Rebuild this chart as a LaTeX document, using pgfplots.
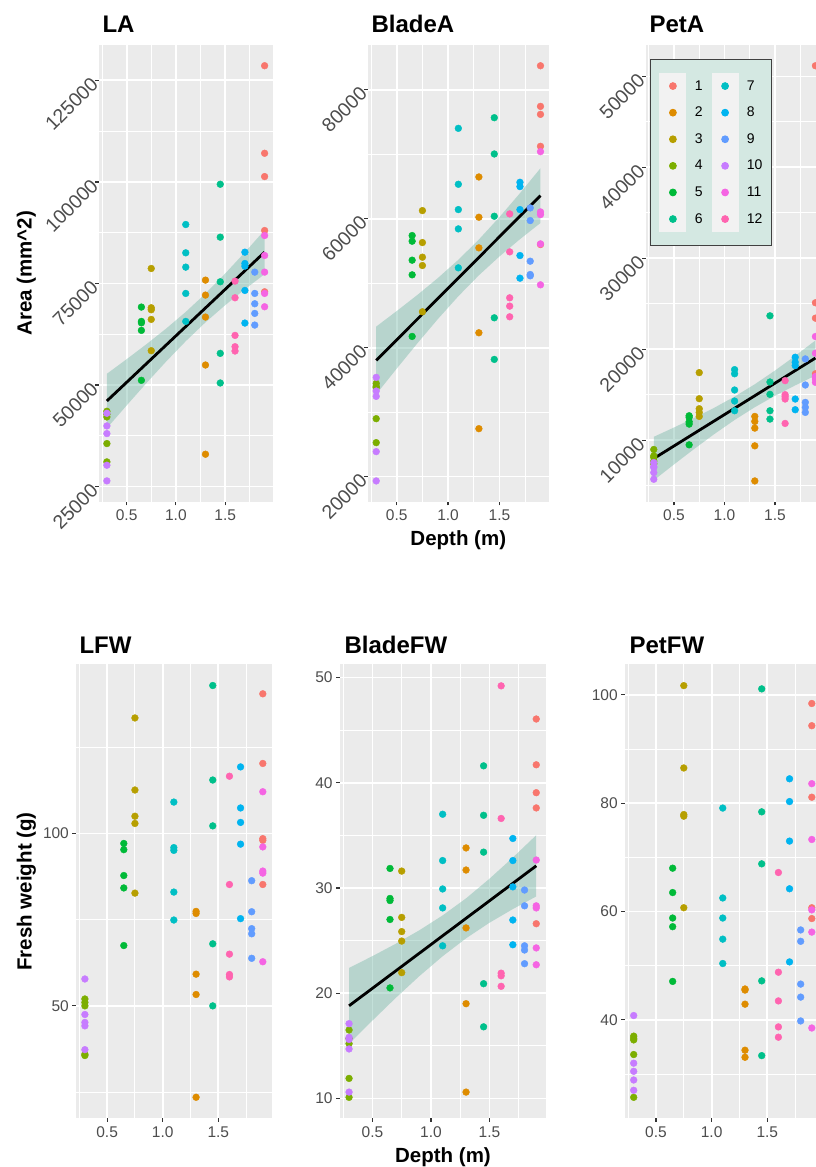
\documentclass[border=0pt]{standalone}
\usepackage{fontspec}
\setmainfont{Liberation Sans}
\usepackage{pgfplots}
\usepackage{pgfplotstable}
\pgfplotsset{compat=1.18}
\definecolor{c1}{HTML}{F8766D}
\definecolor{c2}{HTML}{DE8C00}
\definecolor{c3}{HTML}{B79F00}
\definecolor{c4}{HTML}{7CAE00}
\definecolor{c5}{HTML}{00BA38}
\definecolor{c6}{HTML}{00C08B}
\definecolor{c7}{HTML}{00BFC4}
\definecolor{c8}{HTML}{00B4F0}
\definecolor{c9}{HTML}{619CFF}
\definecolor{c10}{HTML}{C77CFF}
\definecolor{c11}{HTML}{F564E3}
\definecolor{c12}{HTML}{FF64B0}
\definecolor{panelbg}{HTML}{EBEBEB}
\definecolor{bandc}{HTML}{69B3A2}
\definecolor{legbg}{RGB}{212,232,226}
\definecolor{keybg}{HTML}{F2F2F2}
\definecolor{ticklab}{HTML}{4D4D4D}
\definecolor{tickc}{HTML}{333333}
\newcommand\tickfont{\fontsize{15.5pt}{18pt}\selectfont}
\newcommand\rotfont{\fontsize{19.5pt}{22pt}\selectfont}
\newcommand\titlefont{\fontsize{24pt}{28pt}\selectfont\bfseries}
\newcommand\labfont{\fontsize{20.5pt}{24pt}\selectfont\bfseries}
\newcommand\legfont{\fontsize{14pt}{16pt}\selectfont}
\newcommand\legitem[2]{\addlegendimage{only marks, mark=*, mark size=3.4pt, #1,
  legend image code/.code={\fill[keybg] (-13pt,-12.85pt) rectangle (13pt,12.85pt);
  \draw[mark=*, mark size=3.4pt, #1] plot coordinates {(0pt,0pt)};}}\addlegendentry{#2}}

\pgfplotstableread{
x y g
1.9 128607 1
1.9 107049 1
1.9 101311 1
1.9 88033 1
1.9 72951 1
1.3 75820 2
1.3 72131 2
1.3 66721 2
1.3 54918 2
1.3 32951 2
0.75 78689 3
0.75 69016 3
0.75 68525 3
0.75 66148 3
0.75 58443 3
0.3 43525 4
0.3 42800 4
0.3 42131 4
0.3 35574 4
0.3 31066 4
0.65 69180 5
0.65 65656 5
0.65 65300 5
0.65 63443 5
0.65 51148 5
1.45 99426 6
1.45 86393 6
1.45 75410 6
1.45 57787 6
1.45 50492 6
1.1 89508 7
1.1 82541 7
1.1 79016 7
1.1 72541 7
1.1 65656 7
1.7 82705 8
1.7 79918 8
1.7 79262 8
1.7 73279 8
1.7 65246 8
1.8 77787 9
1.8 72541 9
1.8 70000 9
1.8 67623 9
1.8 64754 9
0.3 43033 10
0.3 39918 10
0.3 38033 10
0.3 30246 10
0.3 26393 10
1.9 86803 11
1.9 81885 11
1.9 77787 11
1.9 72541 11
1.9 69262 11
1.6 75574 12
1.6 71475 12
1.6 62213 12
1.6 59426 12
1.6 58361 12
}\tLA

\pgfplotstableread{
x y g
1.9 83718 1
1.9 77418 1
1.9 76179 1
1.9 71222 1
1.9 55987 1
1.3 66470 2
1.3 60222 2
1.3 55471 2
1.3 42304 2
1.3 27433 2
0.75 61255 3
0.75 56298 3
0.75 54026 3
0.75 52735 3
0.75 45558 3
0.3 34457 4
0.3 34000 4
0.3 33800 4
0.3 28983 4
0.3 25265 4
0.65 57383 5
0.65 56505 5
0.65 53562 5
0.65 51290 5
0.65 41737 5
1.45 75663 6
1.45 70034 6
1.45 60377 6
1.45 44628 6
1.45 38173 6
1.1 74010 7
1.1 65336 7
1.1 61410 7
1.1 58416 7
1.1 52374 7
1.7 65645 8
1.7 64974 8
1.7 61410 8
1.7 54284 8
1.7 50773 8
1.8 61668 9
1.8 59706 9
1.8 53406 9
1.8 51341 9
1.8 51136 9
0.3 35386 10
0.3 33269 10
0.3 32443 10
0.3 23872 10
0.3 19326 10
1.9 70395 11
1.9 61049 11
1.9 60636 11
1.9 56091 11
1.9 49740 11
1.6 60739 12
1.6 54852 12
1.6 47727 12
1.6 46436 12
1.6 44784 12
}\tBA

\pgfplotstableread{
x y g
1.9 51176 1
1.9 25110 1
1.9 23419 1
1.9 17300 1
1.9 16900 1
1.3 12610 2
1.3 12059 2
1.3 11324 2
1.3 9375 2
1.3 5515 2
0.75 17426 3
0.75 14559 3
0.75 13456 3
0.75 13051 3
0.75 12610 3
0.3 8971 4
0.3 8272 4
0.3 8100 4
0.3 7700 4
0.3 7400 4
0.65 12684 5
0.65 12500 5
0.65 12022 5
0.65 11765 5
0.65 9485 5
1.45 23676 6
1.45 16397 6
1.45 15037 6
1.45 13235 6
1.45 12316 6
1.1 17757 7
1.1 17300 7
1.1 15515 7
1.1 14301 7
1.1 13235 7
1.7 19118 8
1.7 18566 8
1.7 18199 8
1.7 14522 8
1.7 13346 8
1.8 18934 9
1.8 16066 9
1.8 14154 9
1.8 13603 9
1.8 13051 9
0.3 7537 10
0.3 7100 10
0.3 6985 10
0.3 6434 10
0.3 5699 10
1.9 21397 11
1.9 19559 11
1.9 17000 11
1.9 16728 11
1.9 16360 11
1.6 16544 12
1.6 15000 12
1.6 14779 12
1.6 14522 12
1.6 11838 12
}\tPA

\pgfplotstableread{
x y g
1.9 140.5 1
1.9 120.3 1
1.9 98.5 1
1.9 98.0 1
1.9 85.2 1
1.3 77.4 2
1.3 76.8 2
1.3 59.2 2
1.3 53.3 2
1.3 23.5 2
0.75 133.5 3
0.75 112.6 3
0.75 105.0 3
0.75 102.9 3
0.75 82.7 3
0.3 52.0 4
0.3 51.0 4
0.3 50.0 4
0.3 36.0 4
0.3 35.6 4
0.65 97.1 5
0.65 95.3 5
0.65 87.8 5
0.65 84.2 5
0.65 67.5 5
1.45 142.9 6
1.45 115.5 6
1.45 102.2 6
1.45 68.0 6
1.45 50.0 6
1.1 109.1 7
1.1 95.9 7
1.1 95.1 7
1.1 83.0 7
1.1 74.9 7
1.7 119.3 8
1.7 107.4 8
1.7 103.2 8
1.7 96.9 8
1.7 75.3 8
1.8 86.3 9
1.8 77.3 9
1.8 72.4 9
1.8 70.9 9
1.8 63.8 9
0.3 57.8 10
0.3 47.5 10
0.3 45.2 10
0.3 44.2 10
0.3 37.3 10
1.9 112.1 11
1.9 96.1 11
1.9 89.1 11
1.9 88.5 11
1.9 62.8 11
1.6 116.6 12
1.6 85.2 12
1.6 65.0 12
1.6 59.1 12
1.6 58.4 12
}\tLF

\pgfplotstableread{
x y g
1.9 46.05 1
1.9 41.7 1
1.9 39.05 1
1.9 37.6 1
1.9 26.6 1
1.3 33.8 2
1.3 31.7 2
1.3 26.2 2
1.3 19.0 2
1.3 10.6 2
0.75 31.6 3
0.75 27.2 3
0.75 25.85 3
0.75 24.95 3
0.75 21.95 3
0.3 16.5 4
0.3 15.7 4
0.3 15.2 4
0.3 11.9 4
0.3 10.1 4
0.65 31.85 5
0.65 29.0 5
0.65 28.8 5
0.65 27.0 5
0.65 20.5 5
1.45 41.6 6
1.45 36.9 6
1.45 33.4 6
1.45 20.9 6
1.45 16.8 6
1.1 37.0 7
1.1 32.6 7
1.1 29.9 7
1.1 28.1 7
1.1 24.5 7
1.7 34.7 8
1.7 32.6 8
1.7 30.1 8
1.7 26.95 8
1.7 24.6 8
1.8 29.8 9
1.8 28.3 9
1.8 24.5 9
1.8 24.1 9
1.8 22.8 9
0.3 17.1 10
0.3 15.8 10
0.3 15.6 10
0.3 14.7 10
0.3 10.6 10
1.9 32.65 11
1.9 28.3 11
1.9 28.1 11
1.9 24.3 11
1.9 22.7 11
1.6 49.2 12
1.6 36.6 12
1.6 21.9 12
1.6 21.65 12
1.6 20.65 12
}\tBF

\pgfplotstableread{
x y g
1.9 98.4 1
1.9 94.3 1
1.9 81.1 1
1.9 60.7 1
1.9 58.7 1
1.3 45.7 2
1.3 45.5 2
1.3 42.9 2
1.3 34.4 2
1.3 33.1 2
0.75 101.7 3
0.75 86.5 3
0.75 77.9 3
0.75 77.6 3
0.75 60.7 3
0.3 37.0 4
0.3 36.6 4
0.3 36.3 4
0.3 33.6 4
0.3 25.7 4
0.65 68.0 5
0.65 63.5 5
0.65 58.8 5
0.65 57.2 5
0.65 47.1 5
1.45 101.1 6
1.45 78.4 6
1.45 68.8 6
1.45 47.2 6
1.45 33.4 6
1.1 79.1 7
1.1 62.5 7
1.1 58.8 7
1.1 54.9 7
1.1 50.4 7
1.7 84.5 8
1.7 80.3 8
1.7 73.0 8
1.7 64.2 8
1.7 50.7 8
1.8 56.6 9
1.8 54.5 9
1.8 46.6 9
1.8 44.2 9
1.8 39.8 9
0.3 40.8 10
0.3 32.0 10
0.3 30.5 10
0.3 28.9 10
0.3 27.0 10
1.9 83.6 11
1.9 73.3 11
1.9 60.3 11
1.9 56.2 11
1.9 38.5 11
1.6 67.2 12
1.6 48.8 12
1.6 43.5 12
1.6 38.7 12
1.6 36.8 12
}\tPF

\pgfplotsset{
 gg/.style={
  scale only axis, anchor=south west,
  axis background/.style={fill=panelbg},
  axis line style={draw=none},
  enlargelimits=false,
  xmin=0.22, xmax=1.98,
  xtick={0.5,1,1.5}, xticklabels={0.5,1.0,1.5},
  minor xtick={0.25,0.75,1.25,1.75},
  grid=both,
  major grid style={draw=white, line width=1.8pt},
  minor grid style={draw=white, line width=0.9pt},
  tick align=outside,
  major tick length=3.6pt, minor tick length=0pt,
  tick style={draw=tickc, line width=1.2pt},
  xtick pos=left, ytick pos=left,
  tick label style={font=\tickfont, text=ticklab},
  xticklabel style={yshift=-1pt},
  scaled ticks=false,
  clip=true,
 },
 grp/.style={forget plot, scatter, only marks, mark=*, mark size=3.4pt,
   scatter src=explicit symbolic,
   scatter/classes={1={mark=*,c1},2={mark=*,c2},3={mark=*,c3},4={mark=*,c4},
     5={mark=*,c5},6={mark=*,c6},7={mark=*,c7},8={mark=*,c8},
     9={mark=*,c9},10={mark=*,c10},11={mark=*,c11},12={mark=*,c12}}},
 band/.style={forget plot, fill=bandc, fill opacity=0.4, draw=none},
 fitl/.style={forget plot, black, line width=2.8pt},
 rot/.style={yticklabel style={font=\rotfont, rotate=45, anchor=east, inner sep=1pt}},
}

\begin{document}
\begin{tikzpicture}
% ---------------- Row 1 ----------------
\begin{axis}[gg, rot, at={(99pt,665.3pt)}, width=173.5pt, height=456.7pt,
  ymin=21267, ymax=133711,
  ytick={25000,50000,75000,100000,125000},
  yticklabels={25000,50000,75000,100000,125000},
  minor ytick={37500,62500,87500,112500}]
\addplot[grp] table[x=x,y=y,meta=g]{\tLA};
\addplot[band] coordinates {(0.3,52766) (0.5,56341) (0.7,60017) (0.9,63866) (1.1,67990) (1.3,72509) (1.5,77438) (1.7,82681) (1.9,88125)
 (1.9,77285) (1.7,73569) (1.5,69652) (1.3,65421) (1.1,60780) (0.9,55746) (0.7,50435) (0.5,44951) (0.3,39366)};
\addplot[fitl] coordinates {(0.3,46066) (1.9,82705)};
\end{axis}

\begin{axis}[gg, rot, at={(368pt,665.3pt)}, width=180.7pt, height=456.7pt,
  ymin=16106, ymax=86938,
  ytick={20000,40000,60000,80000},
  yticklabels={20000,40000,60000,80000},
  minor ytick={30000,50000,70000}]
\addplot[grp] table[x=x,y=y,meta=g]{\tBA};
\addplot[band] coordinates {(0.3,43268) (0.5,45676) (0.7,48162) (0.9,50786) (1.1,53624) (1.3,56771) (1.5,60239) (1.7,63954) (1.9,67827)
 (1.9,59333) (1.7,56814) (1.5,54139) (1.3,51217) (1.1,47974) (0.9,44422) (0.7,40654) (0.5,36750) (0.3,32768)};
\addplot[fitl] coordinates {(0.3,38018) (1.9,63580)};
\end{axis}

\begin{axis}[gg, rot, at={(645.7pt,665.3pt)}, width=177.8pt, height=456.7pt,
  ymin=3232, ymax=53459,
  ytick={10000,20000,30000,40000,50000},
  yticklabels={10000,20000,30000,40000,50000},
  minor ytick={5000,15000,25000,35000,45000},
  legend style={at={(axis description cs:0.0242,0.9693)}, anchor=north west,
    fill=legbg, draw=black!75, line width=0.9pt, legend columns=2,
    inner xsep=9pt, inner ysep=13.3pt,
    font=\legfont, cells={anchor=west}, nodes={inner sep=0pt},
    row sep=0pt,
    /tikz/every odd column/.append style={column sep=8.4pt},
    /tikz/every even column/.append style={column sep=9.1pt}},
  legend cell align=left]
\addplot[grp] table[x=x,y=y,meta=g]{\tPA};
\addplot[band] coordinates {(0.3,10368) (0.5,11392) (0.7,12450) (0.9,13571) (1.1,14790) (1.3,16150) (1.5,17657) (1.7,19274) (1.9,20965)
 (1.9,17097) (1.7,16024) (1.5,14879) (1.3,13622) (1.1,12218) (0.9,10675) (0.7,9032) (0.5,7328) (0.3,5588)};
\addplot[fitl] coordinates {(0.3,7978) (1.9,19031)};
\legitem{c1}{1}\legitem{c7}{7}
\legitem{c2}{2}\legitem{c8}{8}
\legitem{c3}{3}\legitem{c9}{9}
\legitem{c4}{4}\legitem{c10}{10}
\legitem{c5}{5}\legitem{c11}{11}
\legitem{c6}{6}\legitem{c12}{12}
\end{axis}

% ---------------- Row 2 ----------------
\begin{axis}[gg, at={(76pt,48.7pt)}, width=195.7pt, height=453.8pt,
  ymin=17.4, ymax=149.0,
  ytick={50,100}, yticklabels={50,100},
  minor ytick={25,75,125}]
\addplot[grp] table[x=x,y=y,meta=g]{\tLF};
\end{axis}

\begin{axis}[gg, at={(339.7pt,48.7pt)}, width=205.9pt, height=453.8pt,
  ymin=8.11, ymax=51.23,
  ytick={10,20,30,40,50}, yticklabels={10,20,30,40,50},
  minor ytick={15,25,35,45}]
\addplot[grp] table[x=x,y=y,meta=g]{\tBF};
\addplot[band] coordinates {(0.3,22.40) (0.5,23.52) (0.7,24.70) (0.9,25.97) (1.1,27.39) (1.3,29.01) (1.5,30.87) (1.7,32.89) (1.9,35.01)
 (1.9,29.19) (1.7,27.99) (1.5,26.69) (1.3,25.21) (1.1,23.51) (0.9,21.61) (0.7,19.56) (0.5,17.40) (0.3,15.20)};
\addplot[fitl] coordinates {(0.3,18.8) (1.9,32.1)};
\end{axis}

\begin{axis}[gg, at={(624.8pt,48.7pt)}, width=195.9pt, height=453.8pt,
  ymin=21.83, ymax=105.6,
  ytick={40,60,80,100}, yticklabels={40,60,80,100},
  minor ytick={30,50,70,90}]
\addplot[grp] table[x=x,y=y,meta=g]{\tPF};
\end{axis}

% ---------------- Titles ----------------
\node[anchor=base west, font=\titlefont] at (99pt,1134.7pt) {LA};
\node[anchor=base west, font=\titlefont] at (368pt,1134.7pt) {BladeA};
\node[anchor=base west, font=\titlefont] at (646pt,1134.7pt) {PetA};
\node[anchor=base west, font=\titlefont] at (76pt,513.2pt) {LFW};
\node[anchor=base west, font=\titlefont] at (341pt,513.2pt) {BladeFW};
\node[anchor=base west, font=\titlefont] at (626pt,513.2pt) {PetFW};
\node[anchor=base, rotate=90, font=\labfont] at (31.7pt,893.7pt) {Area (mm\textasciicircum 2)};
\node[anchor=base, rotate=90, font=\labfont] at (31.7pt,275.6pt) {Fresh weight (g)};
\node[anchor=base, font=\labfont] at (458.3pt,621pt) {Depth (m)};
\node[anchor=base, font=\labfont] at (443pt,4.3pt) {Depth (m)};

\pgfresetboundingbox
\useasboundingbox (0pt,0pt) rectangle (815pt,1167pt);
\end{tikzpicture}
\end{document}
